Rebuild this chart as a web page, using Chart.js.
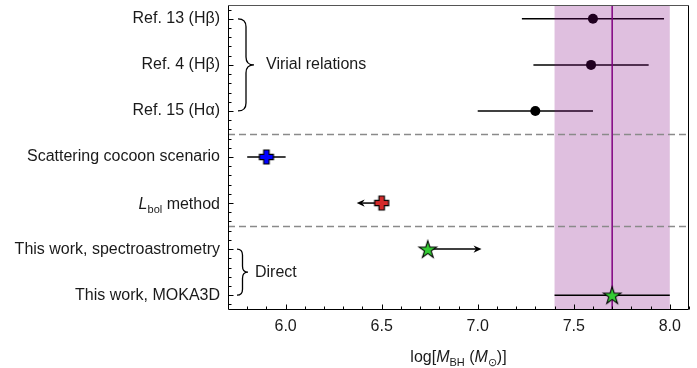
<!DOCTYPE html>
<html><head><meta charset="utf-8">
<script src="https://cdn.jsdelivr.net/npm/chart.js@4"></script>
<style>html,body{margin:0;padding:0;background:#fff}canvas{display:block}</style>
</head><body>
<canvas id="c" width="697" height="368"></canvas>
<script>
// ---- data ----
const rowLabels = ['Ref. 13 (H\u03B2)', 'Ref. 4 (H\u03B2)', 'Ref. 15 (H\u03B1)', 'Scattering cocoon scenario', 'L_bol method', 'This work, spectroastrometry', 'This work, MOKA3D'];
const virialRows = [0, 1, 2];
const virialMass = [7.60, 7.59, 7.30];
const virialLow = [7.23, 7.29, 7.00];
const virialHigh = [7.97, 7.89, 7.60];
const cocoonRows = [3];
const cocoonMass = [5.90];
const cocoonLow = [5.80];
const cocoonHigh = [6.00];
const lbolRows = [4];
const lbolMass = [6.50];
const lbolLimitTo = [6.37];
const directRows = [5, 6];
const directMass = [6.74, 7.70];
const directLow = [null, 7.40];
const directHigh = [null, 8.00];
const directLimitTo = [7.02, null];
const bandRange = [7.4, 8.0];
const bandCentre = [7.7];
const separators = [2.5, 4.5];
const xTickValues = [6.0, 6.5, 7.0, 7.5, 8.0];
const xRange = [5.7, 8.1];
const yRange = [-0.3, 6.3];
const groupLabels = ['Virial relations', 'Direct'];

const FONT = '"Liberation Sans", Arial, Helvetica, sans-serif';
const TXT = '#1a1a1a';
const FS = 16;

function plusCanvas(fill) {
  const c = document.createElement('canvas'); c.width = 18; c.height = 18;
  const g = c.getContext('2d'); const m = 9, a = 7, w = 2.7;
  g.beginPath();
  g.moveTo(m - w, m - a); g.lineTo(m + w, m - a); g.lineTo(m + w, m - w); g.lineTo(m + a, m - w);
  g.lineTo(m + a, m + w); g.lineTo(m + w, m + w); g.lineTo(m + w, m + a); g.lineTo(m - w, m + a);
  g.lineTo(m - w, m + w); g.lineTo(m - a, m + w); g.lineTo(m - a, m - w); g.lineTo(m - w, m - w);
  g.closePath(); g.fillStyle = fill; g.fill(); g.lineWidth = 1.2; g.strokeStyle = '#000'; g.stroke();
  return c;
}
function starCanvas(fill) {
  const c = document.createElement('canvas'); c.width = 22; c.height = 22;
  const g = c.getContext('2d'); const m = 11, R = 9.2, r = 9.2 * 0.382;
  g.beginPath();
  for (let i = 0; i < 10; i++) {
    const ang = -Math.PI / 2 + i * Math.PI / 5; const rad = i % 2 ? r : R;
    const px = m + rad * Math.cos(ang), py = m + 0.8 + rad * Math.sin(ang);
    i ? g.lineTo(px, py) : g.moveTo(px, py);
  }
  g.closePath(); g.fillStyle = fill; g.fill(); g.lineWidth = 1.1; g.strokeStyle = '#000'; g.lineJoin = 'miter'; g.stroke();
  return c;
}

function drawRich(ctx, parts, x, y, align) {
  const fontOf = p => (p.italic ? 'italic ' : '') + (p.sub ? 11 : FS) + 'px ' + FONT;
  let total = 0;
  parts.forEach(p => { ctx.font = fontOf(p); p.w = ctx.measureText(p.t).width; total += p.w; });
  let cx = align === 'right' ? x - total : align === 'center' ? x - total / 2 : x;
  ctx.textAlign = 'left'; ctx.textBaseline = 'alphabetic'; ctx.fillStyle = TXT;
  parts.forEach(p => { ctx.font = fontOf(p); ctx.fillText(p.t, cx, y + (p.sub ? 4 : 0)); cx += p.w; });
}

const custom = {
  id: 'custom',
  beforeDatasetDraw(chart, args) {
    const ctx = chart.ctx, xs = chart.scales.x, ys = chart.scales.y, i = args.index;
    ctx.save();
    ctx.strokeStyle = '#000'; ctx.fillStyle = '#000'; ctx.lineWidth = 1.5;
    const bar = (lo, hi, row) => {
      const y = ys.getPixelForValue(row);
      ctx.beginPath(); ctx.moveTo(xs.getPixelForValue(lo), y); ctx.lineTo(xs.getPixelForValue(hi), y); ctx.stroke();
    };
    const arrow = (from, to, row) => {
      const y = ys.getPixelForValue(row), x0 = xs.getPixelForValue(from), x1 = xs.getPixelForValue(to);
      const d = Math.sign(x1 - x0), hl = 8, hw = 3.6;
      ctx.beginPath(); ctx.moveTo(x0, y); ctx.lineTo(x1 - d * hl * 0.7, y); ctx.stroke();
      ctx.beginPath(); ctx.moveTo(x1, y); ctx.lineTo(x1 - d * hl, y - hw); ctx.lineTo(x1 - d * hl * 0.7, y); ctx.lineTo(x1 - d * hl, y + hw); ctx.closePath(); ctx.fill();
    };
    if (i === 0) virialRows.forEach((r, k) => bar(virialLow[k], virialHigh[k], r));
    if (i === 1) cocoonRows.forEach((r, k) => bar(cocoonLow[k], cocoonHigh[k], r));
    if (i === 2) lbolRows.forEach((r, k) => arrow(lbolMass[k], lbolLimitTo[k], r));
    if (i === 3) directRows.forEach((r, k) => {
      if (directLow[k] != null) bar(directLow[k], directHigh[k], r);
      if (directLimitTo[k] != null) arrow(directMass[k], directLimitTo[k], r);
    });
    ctx.restore();
  },
  afterDatasetDraw(chart, args) {
    if (args.index !== 0) return;
    const ctx = chart.ctx, xs = chart.scales.x, ys = chart.scales.y, a = chart.chartArea;
    ctx.save();
    const b0 = xs.getPixelForValue(bandRange[0]), b1 = xs.getPixelForValue(bandRange[1]);
    ctx.fillStyle = 'rgba(128,0,128,0.25)';
    ctx.fillRect(b0, a.top, b1 - b0, a.bottom - a.top);
    const lx = xs.getPixelForValue(bandCentre[0]);
    ctx.strokeStyle = '#800080'; ctx.lineWidth = 1.5;
    ctx.beginPath(); ctx.moveTo(lx, a.top); ctx.lineTo(lx, a.bottom); ctx.stroke();
    ctx.strokeStyle = '#8a8a8a'; ctx.lineWidth = 1.3; ctx.setLineDash([7, 4]);
    separators.forEach(s => {
      const y = Math.round(ys.getPixelForValue(s)) + 0.5;
      ctx.beginPath(); ctx.moveTo(a.left, y); ctx.lineTo(a.right, y); ctx.stroke();
    });
    ctx.restore();
  },
  afterDraw(chart) {
    const ctx = chart.ctx, xs = chart.scales.x, ys = chart.scales.y, a = chart.chartArea;
    ctx.save();
    const L = Math.round(a.left) + 0.5, R = Math.round(a.right) - 0.5, T = Math.round(a.top) + 0.5, B = Math.round(a.bottom) + 0.5;
    ctx.lineWidth = 1;
    ctx.strokeStyle = '#555'; ctx.beginPath(); ctx.moveTo(L, T); ctx.lineTo(R, T); ctx.stroke();
    ctx.strokeStyle = '#000'; ctx.beginPath(); ctx.moveTo(R, T); ctx.lineTo(R, B); ctx.lineTo(L, B); ctx.lineTo(L, T); ctx.stroke();
    for (let k = 58; k <= 81; k++) {
      const x = Math.round(xs.getPixelForValue(k / 10)) + 0.5, len = k % 5 === 0 ? 5 : 3;
      ctx.beginPath(); ctx.moveTo(x, B); ctx.lineTo(x, B - len); ctx.stroke();
    }
    for (let k = -1; k <= 31; k++) {
      const y = Math.round(ys.getPixelForValue(k / 5)) + 0.5, len = k % 5 === 0 ? 5 : 3;
      ctx.beginPath(); ctx.moveTo(L, y); ctx.lineTo(L + len, y); ctx.stroke();
    }
    ctx.fillStyle = TXT; ctx.textAlign = 'right'; ctx.textBaseline = 'middle'; ctx.font = FS + 'px ' + FONT;
    rowLabels.forEach((lab, r) => {
      const y = ys.getPixelForValue(r);
      if (lab.indexOf('_') >= 0) {
        const [main, rest] = lab.split('_');
        const sub = rest.split(' ')[0], tail = rest.slice(sub.length);
        drawRich(ctx, [{t: main, italic: true}, {t: sub, sub: true}, {t: tail}], a.left - 8, y + 6, 'right');
        ctx.textAlign = 'right'; ctx.textBaseline = 'middle'; ctx.font = FS + 'px ' + FONT;
      } else {
        ctx.fillText(lab, a.left - 8, y);
      }
    });
    const brace = (x0, yTop, yBot, w, r) => {
      const xm = x0 + w / 2, xt = x0 + w, ym = (yTop + yBot) / 2;
      ctx.beginPath(); ctx.moveTo(x0, yTop);
      ctx.quadraticCurveTo(xm, yTop, xm, yTop + r); ctx.lineTo(xm, ym - r);
      ctx.quadraticCurveTo(xm, ym, xt, ym); ctx.quadraticCurveTo(xm, ym, xm, ym + r);
      ctx.lineTo(xm, yBot - r); ctx.quadraticCurveTo(xm, yBot, x0, yBot); ctx.stroke();
    };
    ctx.strokeStyle = '#000'; ctx.lineWidth = 1.3;
    const v0 = ys.getPixelForValue(virialRows[0]), v1 = ys.getPixelForValue(virialRows[2]);
    brace(a.left + 10, v0, v1, 16, 8);
    const d0 = ys.getPixelForValue(directRows[0]), d1 = ys.getPixelForValue(directRows[1]);
    brace(a.left + 9, d0, d1, 11, 6);
    ctx.textAlign = 'left'; ctx.textBaseline = 'middle'; ctx.font = FS + 'px ' + FONT; ctx.fillStyle = TXT;
    ctx.fillText(groupLabels[0], a.left + 38, (v0 + v1) / 2);
    ctx.fillText(groupLabels[1], a.left + 27, (d0 + d1) / 2);
    drawRich(ctx, [{t: 'log['}, {t: 'M', italic: true}, {t: 'BH', sub: true}, {t: ' ('}, {t: 'M', italic: true}, {t: '\u2299', sub: true}, {t: ')]'}],
      (a.left + a.right) / 2, 362, 'center');
    ctx.restore();
  }
};

new Chart(document.getElementById('c'), {
  type: 'scatter',
  data: {
    datasets: [
      {data: virialMass.map((v, k) => ({x: v, y: virialRows[k]})), pointStyle: 'circle', pointRadius: 5, backgroundColor: '#000', borderColor: '#000', borderWidth: 0, order: 3},
      {data: cocoonMass.map((v, k) => ({x: v, y: cocoonRows[k]})), pointStyle: plusCanvas('#0000ff'), pointRadius: 9, order: 1},
      {data: lbolMass.map((v, k) => ({x: v, y: lbolRows[k]})), pointStyle: plusCanvas('#d42a2a'), pointRadius: 9, order: 1},
      {data: directMass.map((v, k) => ({x: v, y: directRows[k]})), pointStyle: starCanvas('#33cc33'), pointRadius: 11, order: 1}
    ]
  },
  options: {
    responsive: false, animation: false, devicePixelRatio: 1,
    events: [],
    layout: {autoPadding: false, padding: {top: 5, right: 8, left: 0, bottom: 0}},
    plugins: {legend: {display: false}, tooltip: {enabled: false}},
    scales: {
      x: {
        type: 'linear', position: 'bottom', min: xRange[0], max: xRange[1],
        afterBuildTicks: s => { s.ticks = xTickValues.map(v => ({value: v})); },
        afterFit: s => { s.height = 59; s.paddingLeft = 0; s.paddingRight = 0; s.paddingTop = 0; s.paddingBottom = 0; },
        grid: {display: false, drawTicks: false}, border: {display: false},
        ticks: {padding: 8, color: TXT, font: {family: FONT, size: FS}, callback: v => Number(v).toFixed(1), maxRotation: 0, autoSkip: false}
      },
      y: {
        type: 'linear', position: 'left', reverse: true, min: yRange[0], max: yRange[1],
        afterBuildTicks: s => { s.ticks = rowLabels.map((_, i) => ({value: i})); },
        afterFit: s => { s.width = 228; s.paddingLeft = 0; s.paddingRight = 0; s.paddingTop = 0; s.paddingBottom = 0; },
        grid: {display: false, drawTicks: false}, border: {display: false},
        ticks: {display: false}
      }
    }
  },
  plugins: [custom]
});
</script>
</body></html>
